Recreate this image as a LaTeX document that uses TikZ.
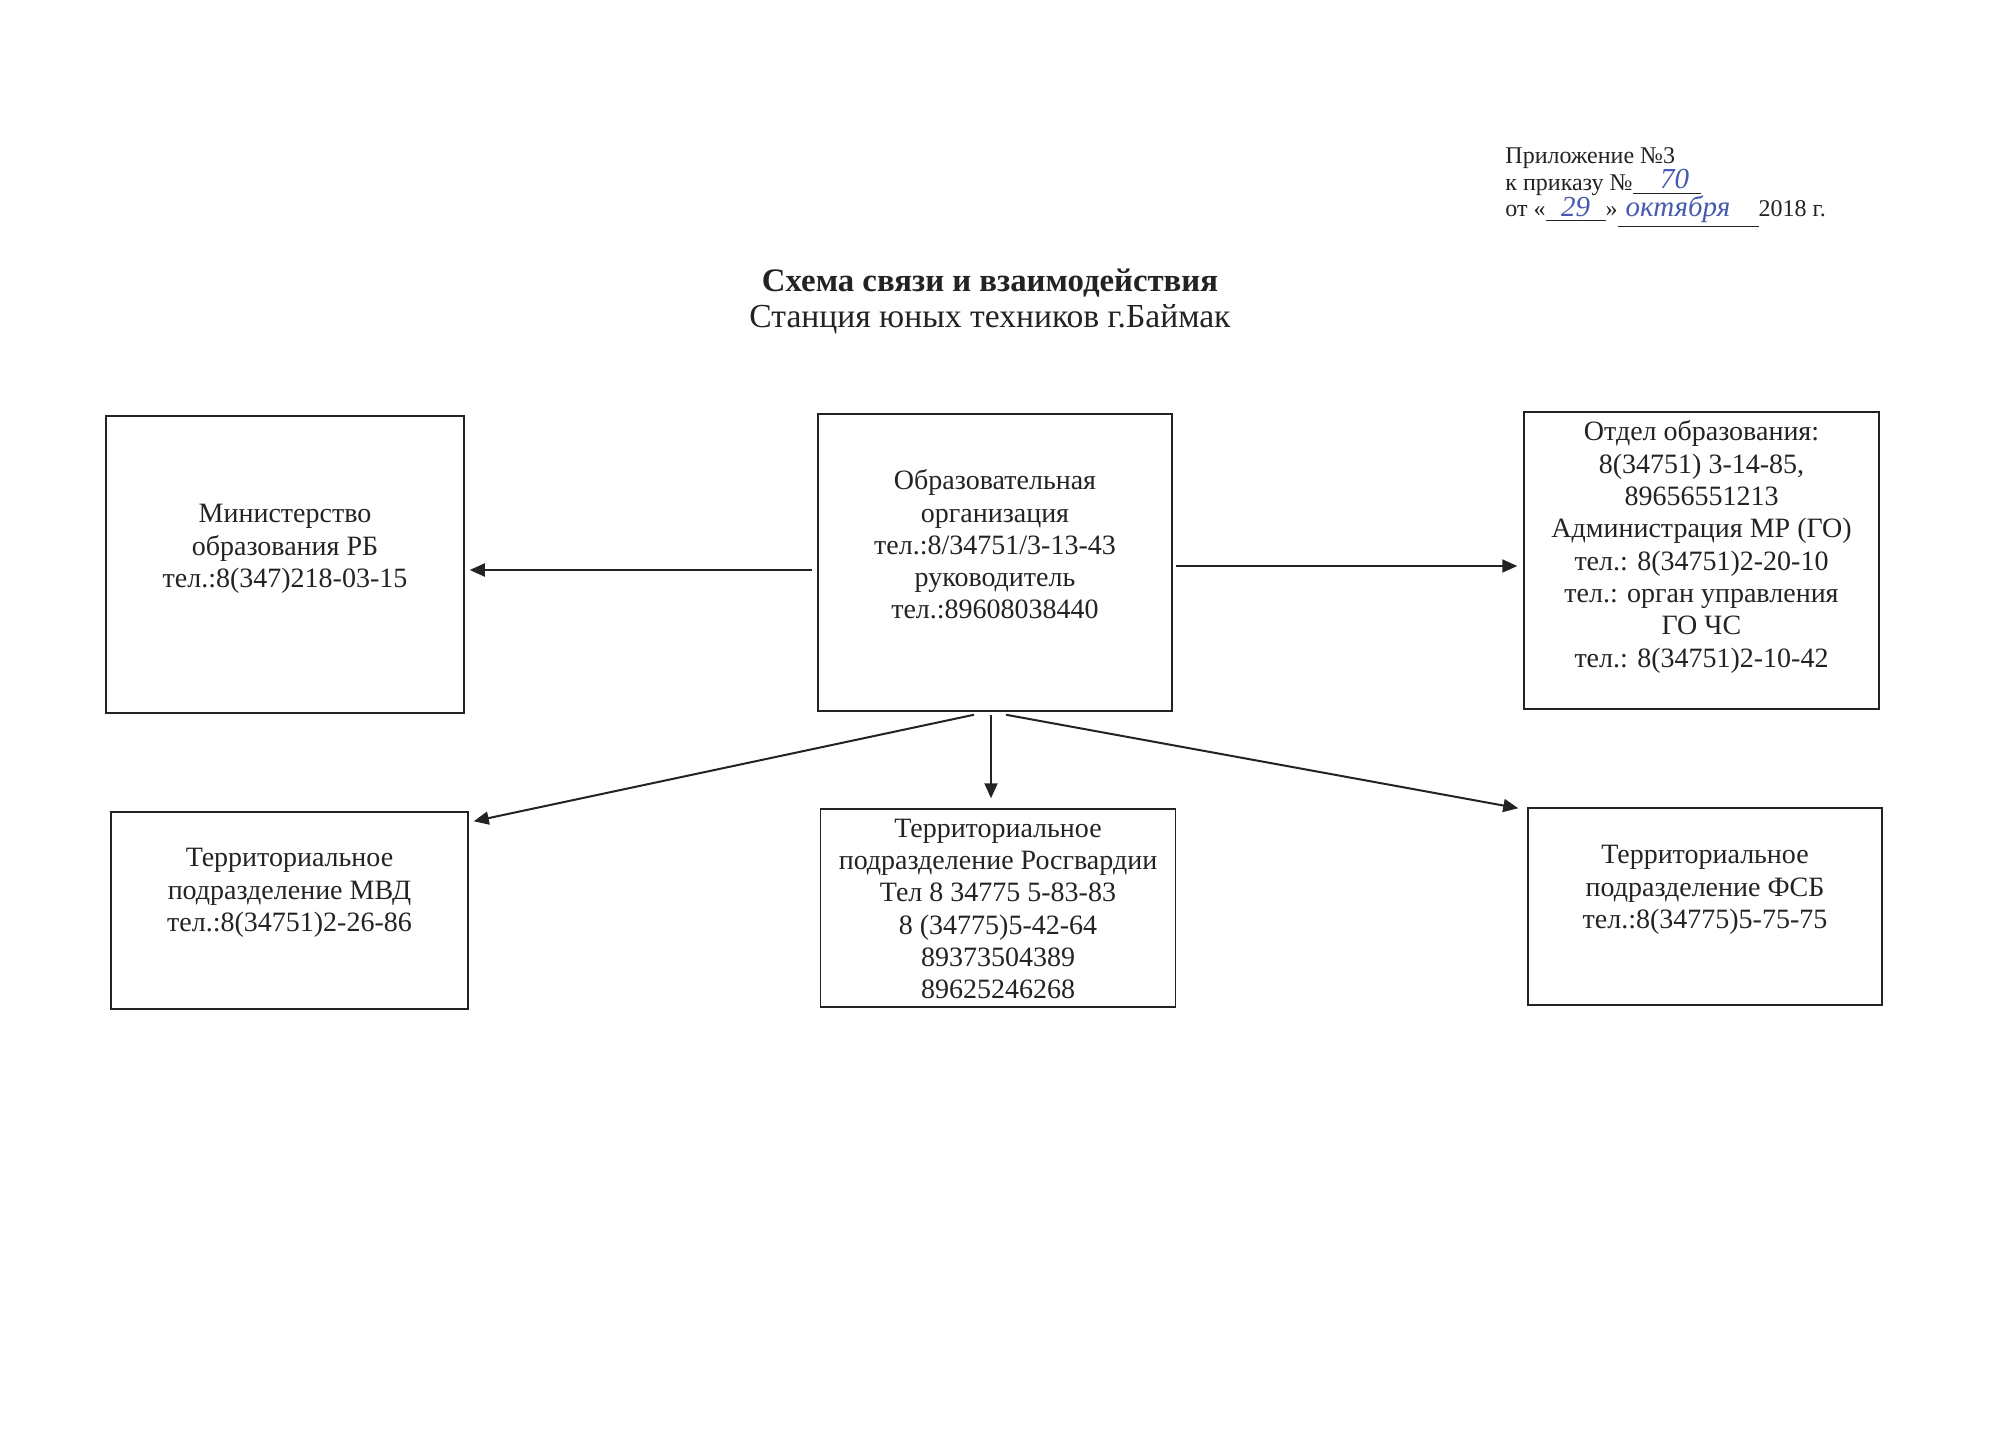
\documentclass[tikz,border=0pt]{standalone}
\usepackage{fontspec}
\setmainfont{Liberation Serif}
\usetikzlibrary{arrows.meta,calc}
\definecolor{ink}{RGB}{35,35,35}
\definecolor{pen}{RGB}{70,90,175}
\newcommand\hw[1]{\textcolor{pen}{\fontsize{14.5}{15}\selectfont\itshape #1}}
\begin{document}
\begin{tikzpicture}[x=0.5pt,y=-0.5pt,
  box/.style={draw=ink,line width=0.75pt,inner sep=0pt},
  txt/.style={align=center,font=\fontsize{14}{16.15}\selectfont,text=ink,inner sep=0pt},
  ann/.style={font=\fontsize{12}{13.8}\selectfont,text=ink,inner sep=0pt,anchor=base west},
  ttl/.style={font=\fontsize{16.4}{18.4}\selectfont,text=ink,inner sep=0pt,anchor=base},
  arr/.style={draw=ink,line width=1pt,-{Triangle[length=7.5pt,width=6.5pt]}}]
\fill[white] (0,0) rectangle (2000,1454);
\useasboundingbox (0,0) rectangle (2000,1454);

% annotation
\node[ann] (a1) at (1505,164) {Приложение №3};
\node[ann] (a2) at (1505,190.5) {к приказу №\underline{\makebox[34pt]{\hspace{8pt}\raisebox{1pt}{\hw{70}}}}};
\node[ann] (a3) at (1505,217) {от «\underline{\makebox[30pt]{\hw{29}}}»\underline{\makebox[70.5pt][l]{\hspace{4pt}\hw{октября}}}2018 г.};

% title
\node[ttl] (t1) at (990,292) {\bfseries Схема связи и взаимодействия};
\node[ttl,font=\fontsize{16.8}{18.4}\selectfont] (t2) at (990,328) {Станция юных техников г.Баймак};

% boxes
\node[box,minimum width=179pt,minimum height=148.5pt] (l) at (285,564.5) {};
\node[box,minimum width=177pt,minimum height=148.5pt] (c) at (995,562.5) {};
\node[box,minimum width=177.5pt,minimum height=148.5pt] (r) at (1701.5,560.5) {};
\node[box,minimum width=178.5pt,minimum height=98.5pt] (mvd) at (289.5,910.5) {};
\node[box,minimum width=177.5pt,minimum height=99pt] (ros) at (998,908) {};
\node[box,minimum width=177pt,minimum height=98.5pt] (fsb) at (1705,906.5) {};

% texts
\node[txt] (lt) at (285,549) {Министерство\\образования РБ\\тел.:8(347)218-03-15};
\node[txt] (ct) at (995,544.5) {Образовательная\\организация\\тел.:8/34751/3-13-43\\руководитель\\тел.:89608038440};
\node[txt] (rt) at (1701.5,547) {Отдел образования:\\8(34751) 3-14-85,\\89656551213\\Администрация МР (ГО)\\тел.: 8(34751)2-20-10\\тел.: орган управления\\ГО ЧС\\тел.: 8(34751)2-10-42};
\node[txt] (mvdt) at (289.5,893) {Территориальное\\подразделение МВД\\тел.:8(34751)2-26-86};
\node[txt] (rost) at (998,909) {Территориальное\\подразделение Росгвардии\\Тел 8 34775 5-83-83\\8 (34775)5-42-64\\89373504389\\89625246268};
\node[txt] (fsbt) at (1705,890) {Территориальное\\подразделение ФСБ\\тел.:8(34775)5-75-75};

% connectors
\draw[arr] ($(c.west)+(-5,7.5)$) -- ($(l.east)+(5,5.5)$);
\draw[arr] ($(c.east)+(3,3.5)$) -- ($(r.west)+(-6,5.5)$);
\draw[arr] ($(c.south)+(-21,3)$) -- ($(mvd.north east)+(5,10)$);
\draw[arr] ($(c.south)+(-4,3)$) -- ($(ros.north -| c.south)+(-4,-10)$);
\draw[arr] ($(c.south)+(11,3)$) -- ($(fsb.north west)+(-9,1)$);
\end{tikzpicture}
\end{document}
